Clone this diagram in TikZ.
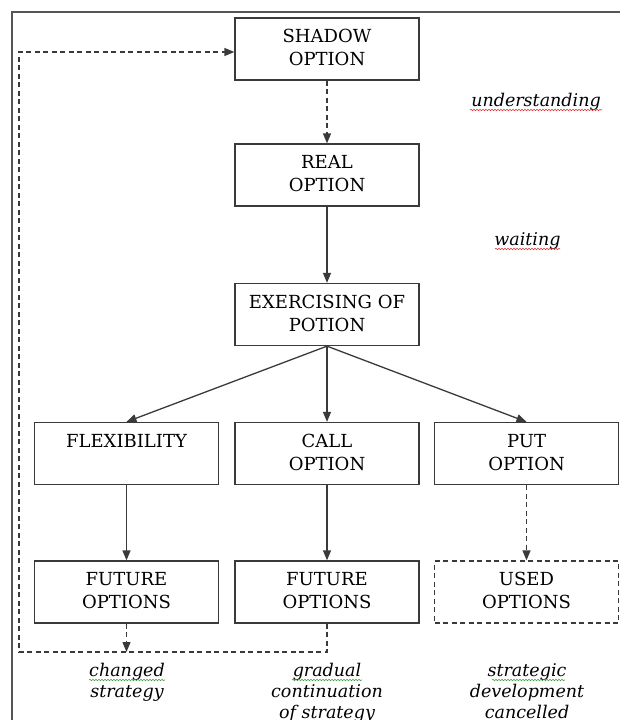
\documentclass[tikz,border=0pt]{standalone}
\usepackage{fontspec}
\setmainfont{DejaVu Serif}
\usetikzlibrary{arrows.meta,decorations.pathmorphing}
\definecolor{linec}{HTML}{3A3A3A}
\definecolor{framec}{HTML}{555555}
\definecolor{spellred}{HTML}{E03030}
\definecolor{spellgreen}{HTML}{40A040}
\tikzset{
  box/.style={draw=linec, line width=1.3pt, minimum width=184pt, minimum height=62pt, inner sep=0pt},
  dbox/.style={box, dashed, dash pattern=on 5pt off 3.5pt},
  boxtext/.style={anchor=north, inner sep=0pt, align=center, text=black, font=\fontsize{18}{23}\selectfont},
  lbl/.style={anchor=base, inner sep=0pt, align=center, text=black, font=\fontsize{17.5}{21}\selectfont\itshape},
  conn/.style={draw=linec, line width=1.3pt, -{Triangle[length=10pt,width=8pt]}},
  dconn/.style={conn, dash pattern=on 5pt off 3.5pt},
  squig/.style={line width=0.6pt, decorate, decoration={snake, amplitude=0.7pt, segment length=3pt}},
}
\begin{document}
\begin{tikzpicture}[x=1pt,y=-1pt]
\useasboundingbox (0,0) rectangle (619,720);
% outer frame
\coordinate (fr1) at (12,721);
\coordinate (fr2) at (12,12);
\coordinate (fr3) at (620,12);
\draw[draw=framec, line width=1.1pt] (fr1) -- (fr2) -- (fr3);

% boxes
\node[box] (shadow) at (327,49) {};
\node[box] (real) at (327,175) {};
\node[box] (exer) at (327,314.5) {};
\node[box] (flex) at (126.5,453.5) {};
\node[box] (call) at (327,453.5) {};
\node[box] (put) at (526.5,453.5) {};
\node[box] (fut1) at (126.5,592) {};
\node[box] (fut2) at (327,592) {};
\node[dbox] (used) at (526.5,592) {};

% box texts
\node[boxtext] (shadowt) at ([yshift=-12pt]shadow.north) {SHADOW\\OPTION};
\node[boxtext] (realt) at ([yshift=-12pt]real.north) {REAL\\OPTION};
\node[boxtext] (exert) at ([yshift=-12pt]exer.north) {EXERCISING OF\\POTION};
\node[boxtext] (flext) at ([yshift=-12pt]flex.north) {FLEXIBILITY};
\node[boxtext] (callt) at ([yshift=-12pt]call.north) {CALL\\OPTION};
\node[boxtext] (putt) at ([yshift=-12pt]put.north) {PUT\\OPTION};
\node[boxtext] (fut1t) at ([yshift=-12pt]fut1.north) {FUTURE\\OPTIONS};
\node[boxtext] (fut2t) at ([yshift=-12pt]fut2.north) {FUTURE\\OPTIONS};
\node[boxtext] (usedt) at ([yshift=-12pt]used.north) {USED\\OPTIONS};

% connectors
\draw[dconn] (shadow.south) -- (real.north);
\draw[conn] (real.south) -- (exer.north);
\draw[conn] (exer.south) -- (flex.north);
\draw[conn] (exer.south) -- (call.north);
\draw[conn] (exer.south) -- (put.north);
\draw[conn] (flex.south) -- (fut1.north);
\draw[conn] (call.south) -- (fut2.north);
\draw[dconn] (put.south) -- (used.north);

\coordinate (c1) at (126.5,652);
\coordinate (lb) at (19,652);
\draw[dconn] (fut1.south) -- (c1);
\draw[dconn] (fut2.south) |- (lb) |- ([yshift=-3pt]shadow.west);

% labels (base anchor = baseline of last line)
\node[lbl] (und) at (536,106) {understanding};
\node[lbl] (wait) at (527.5,245) {waiting};
\node[lbl] (chg) at (127,697) {changed\\strategy};
\node[lbl] (grad) at (327,718) {gradual\\continuation\\of strategy};
\node[lbl] (strat) at (527,718) {strategic\\development\\cancelled};

% spell-check squiggles
\draw[squig, spellred] (470,110) -- (602,110);
\draw[squig, spellred] (495,249) -- (560,249);
\draw[squig, spellgreen] (89,680) -- (165,680);
\draw[squig, spellgreen] (292,680) -- (362,680);
\draw[squig, spellgreen] (492,680) -- (565,680);
\end{tikzpicture}
\end{document}
